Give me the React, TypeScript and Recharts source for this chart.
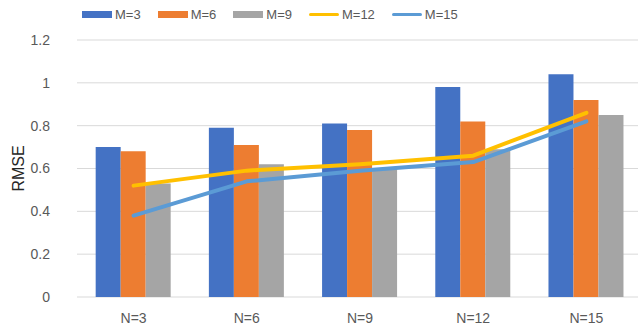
import React from 'react';
import {
  ComposedChart,
  Bar,
  Line,
  XAxis,
  YAxis,
  CartesianGrid,
} from 'recharts';

// Categories (number of N) and RMSE values per M setting
const categories = ['N=3', 'N=6', 'N=9', 'N=12', 'N=15'];
const m3 = [0.7, 0.79, 0.81, 0.98, 1.04];
const m6 = [0.68, 0.71, 0.78, 0.82, 0.92];
const m9 = [0.53, 0.62, 0.6, 0.69, 0.85];
const m12 = [0.52, 0.59, 0.62, 0.66, 0.86];
const m15 = [0.38, 0.54, 0.59, 0.63, 0.82];
const yTicks = [0, 0.2, 0.4, 0.6, 0.8, 1, 1.2];

const data = categories.map((name, i) => ({
  name,
  m3: m3[i],
  m6: m6[i],
  m9: m9[i],
  m12: m12[i],
  m15: m15[i],
}));

const FONT = '"Liberation Sans", Arial, sans-serif';
const TEXT = '#595959';

const series = [
  { key: 'm3', label: 'M=3', color: '#4472C4', kind: 'bar' },
  { key: 'm6', label: 'M=6', color: '#ED7D31', kind: 'bar' },
  { key: 'm9', label: 'M=9', color: '#A5A5A5', kind: 'bar' },
  { key: 'm12', label: 'M=12', color: '#FFC000', kind: 'line' },
  { key: 'm15', label: 'M=15', color: '#5B9BD5', kind: 'line' },
];

function LegendRow() {
  return (
    <div
      style={{
        position: 'absolute',
        top: 7,
        left: 82,
        display: 'flex',
        alignItems: 'center',
        gap: 17,
        fontFamily: FONT,
        fontSize: 13,
        color: TEXT,
        zIndex: 2,
      }}
    >
      {series.map((s) => (
        <div key={s.key} style={{ display: 'flex', alignItems: 'center', gap: 3 }}>
          <span
            style={{
              display: 'inline-block',
              width: 30,
              height: s.kind === 'bar' ? 7 : 3,
              background: s.color,
              borderRadius: s.kind === 'bar' ? 0 : 2,
            }}
          />
          <span>{s.label}</span>
        </div>
      ))}
    </div>
  );
}

const RmseLabel = (props: any) => {
  const vb = props.viewBox || {};
  const cy = (vb.y || 0) + (vb.height || 0) / 2;
  const cx = 18;
  return (
    <text
      x={cx}
      y={cy}
      transform={`rotate(-90, ${cx}, ${cy})`}
      textAnchor="middle"
      dominantBaseline="central"
      fontFamily={FONT}
      fontSize={16}
      fill="#262626"
    >
      RMSE
    </text>
  );
};

export default function App() {
  return (
    <div
      style={{
        position: 'absolute',
        left: 0,
        top: 0,
        width: 638,
        height: 326,
        overflow: 'hidden',
        background: '#fff',
      }}
    >
      <LegendRow />
      <ComposedChart
        width={643}
        height={326}
        data={data}
        margin={{ top: 40, right: 0, bottom: 0, left: 0 }}
        barCategoryGap="16.5%"
        barGap={0}
      >
        <CartesianGrid vertical={false} stroke="#d9d9d9" strokeWidth={1} />
        <XAxis
          dataKey="name"
          axisLine={false}
          tickLine={false}
          height={29}
          tickMargin={10}
          tick={{ fill: TEXT, fontSize: 14, fontFamily: FONT }}
          interval={0}
        />
        <YAxis
          domain={[0, 1.2]}
          ticks={yTicks}
          width={77}
          axisLine={false}
          tickLine={false}
          tickMargin={21}
          tick={{ fill: TEXT, fontSize: 14, fontFamily: FONT }}
          label={{ content: RmseLabel }}
        />
        {series
          .filter((s) => s.kind === 'bar')
          .map((s) => (
            <Bar key={s.key} dataKey={s.key} fill={s.color} isAnimationActive={false} />
          ))}
        {series
          .filter((s) => s.kind === 'line')
          .map((s) => (
            <Line
              key={s.key}
              dataKey={s.key}
              stroke={s.color}
              strokeWidth={4}
              strokeLinecap="round"
              strokeLinejoin="round"
              dot={false}
              activeDot={false}
              isAnimationActive={false}
            />
          ))}
      </ComposedChart>
    </div>
  );
}
